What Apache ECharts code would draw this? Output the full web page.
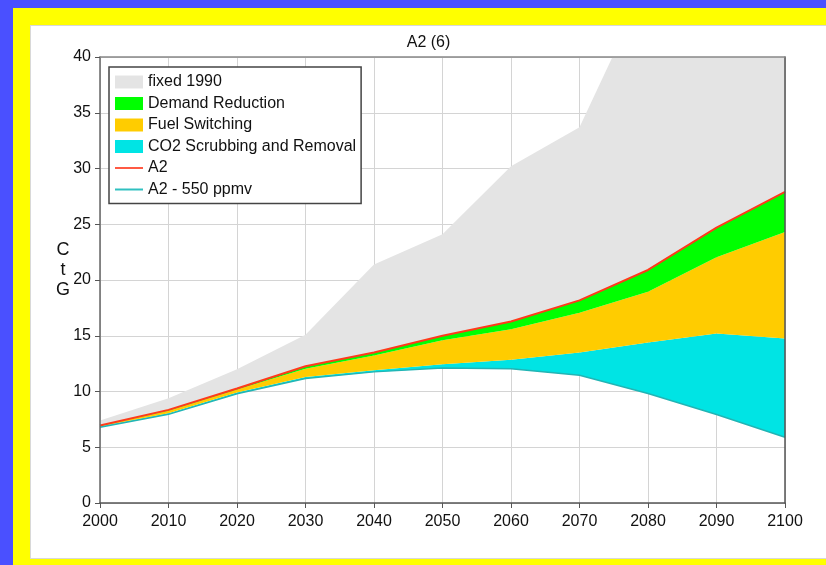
<!DOCTYPE html>
<html>
<head>
<meta charset="utf-8">
<script src="https://cdn.jsdelivr.net/npm/echarts@6/dist/echarts.min.js"></script>
<style>
html, body { margin: 0; padding: 0; }
body { width: 826px; height: 565px; background: #4a50ff; position: relative; overflow: hidden; }
.frame { position: absolute; left: 13px; top: 8px; width: 813px; height: 557px; background: #ffff00; }
#chart { position: absolute; left: 30px; top: 25px; width: 795px; height: 532px; background: #fff; border: 1px solid #d8d8d8; }
</style>
</head>
<body>
<div class="frame"></div>
<div id="chart"></div>
<script>
// years on the x axis
var years = ['2000', '2010', '2020', '2030', '2040', '2050', '2060', '2070', '2080', '2090', '2100']
// upper edge of each band (GtC)
var fixed1990 = [7.4, 9.4, 12.0, 15.1, 21.4, 24.1, 30.2, 33.7, 46.8, 52, 58]
var a2 = [6.95, 8.35, 10.27, 12.27, 13.5, 15.0, 16.28, 18.17, 20.9, 24.7, 27.9]
var fuelTop = [6.9, 8.28, 10.18, 12.05, 13.23, 14.6, 15.58, 17.06, 18.95, 22.05, 24.3]
var scrubTop = [6.85, 8.05, 9.9, 11.3, 11.91, 12.45, 12.85, 13.5, 14.4, 15.2, 14.75]
var a2_550 = [6.8, 7.95, 9.8, 11.17, 11.76, 12.1, 12.03, 11.46, 9.82, 7.93, 5.9]
var yTicks = [0, 40, 5]

var FONT = "'Liberation Sans', Arial, sans-serif"
var GRAY = '#e4e4e4'
var GREEN = '#00ff00'
var YELLOW = '#ffcc00'
var CYAN = '#00e4e4'
var RED = '#ff3a1a'
var TEAL = '#22b4b4'
// flat bar used as the legend mark of the two lines
var LINE_ICON = 'path://M0,0h28v2h-28z'

function diff(top, bottom) {
  return top.map(function (v, i) { return +(v - bottom[i]).toFixed(3) })
}

function band(name, color, data) {
  return {
    name: name,
    type: 'line',
    stack: 'band',
    data: data,
    color: color,
    symbol: 'none',
    lineStyle: { width: 0 },
    areaStyle: { color: color, opacity: 1 },
    z: 2
  }
}

var chart = echarts.init(document.getElementById('chart'))
chart.setOption({
  animation: false,
  backgroundColor: '#fff',
  textStyle: { fontFamily: FONT },
  title: {
    text: 'A2 (6)',
    left: 'center',
    top: 9,
    padding: 0,
    textStyle: { fontSize: 16, fontWeight: 'normal', color: '#111', fontFamily: FONT }
  },
  grid: { left: 69, top: 31, width: 685, height: 446 },
  legend: {
    orient: 'vertical',
    left: 78,
    top: 41,
    padding: [7, 5, 6, 6],
    itemWidth: 28,
    itemHeight: 13,
    itemGap: 5.5,
    borderColor: '#444',
    borderWidth: 1.5,
    backgroundColor: '#fff',
    selectedMode: false,
    symbolKeepAspect: true,
    textStyle: { fontSize: 16, color: '#111', fontFamily: FONT, lineHeight: 16 },
    data: [
      { name: 'fixed 1990', icon: 'rect', itemStyle: { color: GRAY } },
      { name: 'Demand Reduction', icon: 'rect', itemStyle: { color: GREEN } },
      { name: 'Fuel Switching', icon: 'rect', itemStyle: { color: YELLOW } },
      { name: 'CO2 Scrubbing and Removal', icon: 'rect', itemStyle: { color: CYAN } },
      { name: 'A2', icon: LINE_ICON, itemStyle: { color: '#ff5a44' } },
      { name: 'A2 - 550 ppmv', icon: LINE_ICON, itemStyle: { color: '#30c0c0' } }
    ]
  },
  graphic: [{
    type: 'text',
    x: 32,
    y: 214,
    style: { text: 'C\nt\nG', font: '18px ' + FONT, fill: '#111', align: 'center', verticalAlign: 'top', lineHeight: 20 }
  }],
  xAxis: [
    {
      type: 'category', data: years, boundaryGap: false, position: 'bottom',
      axisLine: { show: false }, axisTick: { show: false }, axisLabel: { show: false },
      splitLine: { show: true, lineStyle: { color: '#d4d4d4', width: 1 } }
    },
    {
      type: 'category', data: years, boundaryGap: false, position: 'bottom', z: 10,
      axisLine: { onZero: false, lineStyle: { color: '#555', width: 1.5 } },
      axisTick: { alignWithLabel: true, length: 5, lineStyle: { color: '#555' } },
      axisLabel: { fontSize: 16, color: '#111', margin: 11, fontFamily: FONT },
      splitLine: { show: false }
    },
    {
      type: 'category', data: years, boundaryGap: false, position: 'top', z: 10,
      axisLine: { onZero: false, lineStyle: { color: '#888', width: 1.5 } },
      axisTick: { show: false }, axisLabel: { show: false }, splitLine: { show: false }
    }
  ],
  yAxis: [
    {
      type: 'value', min: yTicks[0], max: yTicks[1], interval: yTicks[2], position: 'left',
      axisLine: { show: false }, axisTick: { show: false }, axisLabel: { show: false },
      splitLine: { show: true, lineStyle: { color: '#d4d4d4', width: 1 } }
    },
    {
      type: 'value', min: yTicks[0], max: yTicks[1], interval: yTicks[2], position: 'left', z: 10,
      axisLine: { show: true, onZero: false, lineStyle: { color: '#666', width: 1.5 } },
      axisTick: { show: true, length: 5, lineStyle: { color: '#555' } },
      axisLabel: { fontSize: 16, color: '#111', margin: 9, fontFamily: FONT },
      splitLine: { show: false }
    },
    {
      type: 'value', min: yTicks[0], max: yTicks[1], interval: yTicks[2], position: 'right', z: 10,
      axisLine: { show: true, onZero: false, lineStyle: { color: '#555', width: 1.5 } },
      axisTick: { show: false }, axisLabel: { show: false }, splitLine: { show: false }
    }
  ],
  series: [
    {
      name: 'base', type: 'line', stack: 'band', data: a2_550, symbol: 'none',
      lineStyle: { width: 0, opacity: 0 }, silent: true
    },
    band('CO2 Scrubbing and Removal', CYAN, diff(scrubTop, a2_550)),
    band('Fuel Switching', YELLOW, diff(fuelTop, scrubTop)),
    band('Demand Reduction', GREEN, diff(a2, fuelTop)),
    band('fixed 1990', GRAY, diff(fixed1990, a2)),
    {
      name: 'A2', type: 'line', data: a2, symbol: 'none', color: RED,
      lineStyle: { color: RED, width: 2 }, z: 5
    },
    {
      name: 'A2 - 550 ppmv', type: 'line', data: a2_550, symbol: 'none', color: TEAL,
      lineStyle: { color: TEAL, width: 1.5 }, z: 5
    }
  ]
})
</script>
</body>
</html>
